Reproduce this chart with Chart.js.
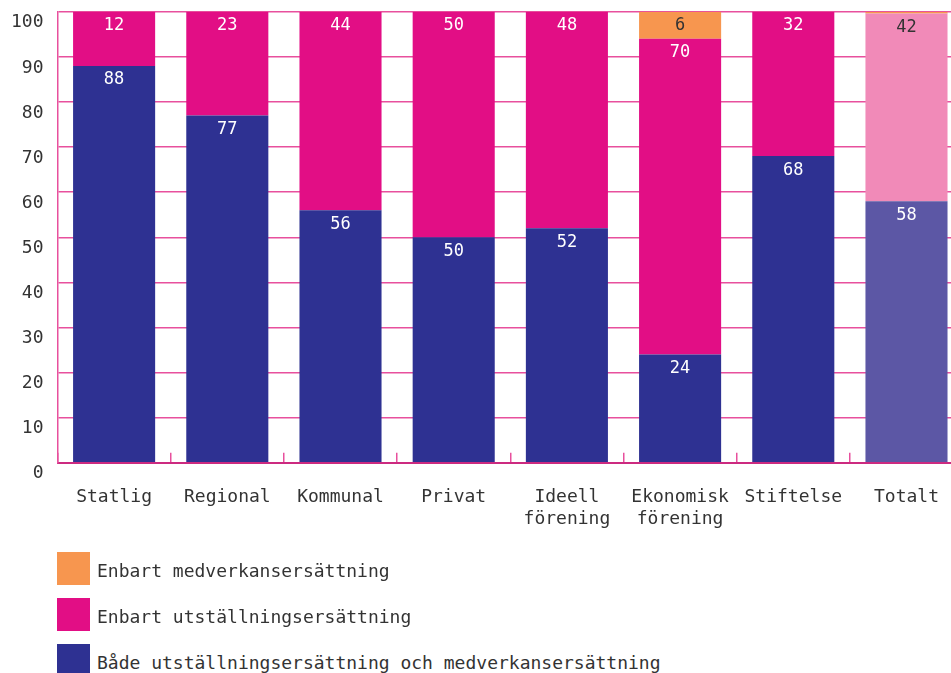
<!DOCTYPE html>
<html>
<head>
<meta charset="utf-8">
<script src="https://cdn.jsdelivr.net/npm/chart.js@4/dist/chart.umd.min.js"></script>
<style>
  html, body { margin: 0; padding: 0; background: #fff; overflow: hidden; }
  #wrap { position: relative; width: 951px; height: 673px; overflow: hidden; }
  #box { position: absolute; left: -3px; top: -13px; width: 976px; height: 577px; }
  #legend { position: absolute; left: 57px; top: 552px; font-family: "DejaVu Sans Mono", monospace; font-size: 18px; color: #333; }
  .item { height: 33px; margin-bottom: 13px; position: relative; }
  .sw { position: absolute; left: 0; top: 0; width: 33px; height: 33px; }
  .txt { position: absolute; left: 40px; top: 8px; white-space: nowrap; }
</style>
</head>
<body>
<div id="wrap">
  <div id="box"><canvas id="myChart"></canvas></div>
  <div id="legend"></div>
</div>
<script>
// DONNEES
var categories = ["Statlig", "Regional", "Kommunal", "Privat", ["Ideell", "förening"], ["Ekonomisk", "förening"], "Stiftelse", "Totalt"];
var bada = [88, 77, 56, 50, 52, 24, 68, 58];
var utstallning = [12, 23, 44, 50, 48, 70, 32, 41.6];
var medverkan = [0, 0, 0, 0, 0, 6, 0, 0.4];
var yTicks = [0, 10, 20, 30, 40, 50, 60, 70, 80, 90, 100];

var pink = "#E8509D";

// couleurs : la derniere barre (Totalt) est plus claire
function couleurs(base, clair) {
    var c = [];
    for (var i = 0; i < categories.length; i++) {
        c.push(i == categories.length - 1 ? clair : base);
    }
    return c;
}

// ETIQUETTES DE VALEURS SUR LES BARRES
var valeurs = {
    id: 'valeurs',
    afterDatasetsDraw: function(chart) {
        var ctx = chart.ctx;
        ctx.save();
        ctx.font = '17px "DejaVu Sans Mono", monospace';
        ctx.textAlign = 'center';
        ctx.textBaseline = 'middle';
        chart.data.datasets.forEach(function(ds, i) {
            chart.getDatasetMeta(i).data.forEach(function(bar, j) {
                var v = ds.data[j];
                if (!v || v < 1) return;
                ctx.fillStyle = ds.labelColors[j];
                ctx.fillText(Math.round(v), bar.x, bar.y + 14);
            });
        });
        ctx.restore();
    }
};

Chart.defaults.font.family = '"DejaVu Sans Mono", monospace';
Chart.defaults.font.size = 18;
Chart.defaults.color = '#333';

var chart = new Chart(document.getElementById("myChart"), {
    type: 'bar',
    data: {
        labels: categories,
        datasets: [{
            label: "Både utställningsersättning och medverkansersättning",
            data: bada,
            backgroundColor: couleurs("#2E3192", "#5C57A5"),
            labelColors: couleurs("#fff", "#fff")
        }, {
            label: "Enbart utställningsersättning",
            data: utstallning,
            backgroundColor: couleurs("#E20E85", "#F18AB8"),
            labelColors: couleurs("#fff", "#333")
        }, {
            label: "Enbart medverkansersättning",
            data: medverkan,
            backgroundColor: couleurs("#F7964F", "#F7964F"),
            labelColors: couleurs("#333", "#333")
        }]
    },
    options: {
        responsive: true,
        maintainAspectRatio: false,
        animation: false,
        layout: { padding: 0 },
        datasets: { bar: { categoryPercentage: 1, barPercentage: 0.725 } },
        plugins: {
            legend: { display: false },
            tooltip: { enabled: false }
        },
        scales: {
            x: {
                stacked: true,
                grid: { drawOnChartArea: false, color: pink, lineWidth: 1.5, tickLength: -10, offset: true },
                border: { color: "#CC2A80", width: 2 },
                ticks: { padding: 34, maxRotation: 0, autoSkip: false, font: { lineHeight: 1.2 } }
            },
            y: {
                stacked: true,
                min: 0,
                max: 100,
                afterBuildTicks: function(scale) {
                    scale.ticks = yTicks.map(function(v) { return { value: v }; });
                },
                grid: { color: pink, lineWidth: 1.5, drawTicks: false },
                border: { color: pink, width: 1.5 },
                ticks: { padding: 14, labelOffset: 11 }
            }
        }
    },
    plugins: [valeurs]
});

// LEGENDE HTML (ordre inverse)
var html = "";
for (var i = chart.data.datasets.length - 1; i >= 0; i--) {
    var ds = chart.data.datasets[i];
    html += "<div class='item'><div class='sw' style='background:" + ds.backgroundColor[0] + "'></div>";
    html += "<div class='txt'>" + ds.label + "</div></div>";
}
document.getElementById("legend").innerHTML = html;
</script>
</body>
</html>
